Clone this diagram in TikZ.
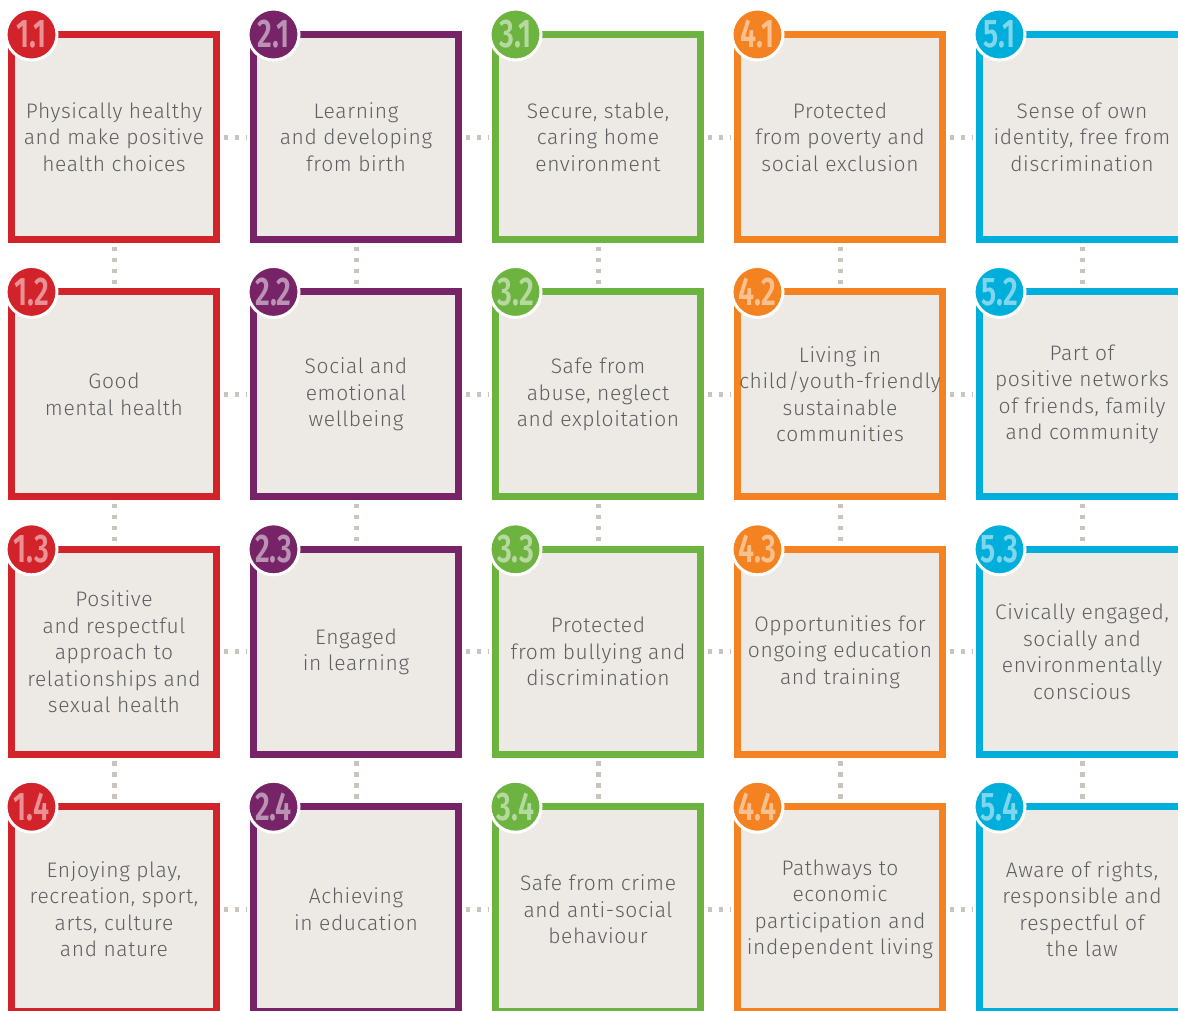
\documentclass[tikz,border=0pt]{standalone}
\usepackage{fontspec}
\setmainfont{Fira Sans}[UprightFont=* Light, BoldFont=* SemiBold]
\newfontfamily\txtfont{Fira Sans}[UprightFont=* Light, LetterSpace=3]
\usepackage{graphicx}
\usetikzlibrary{calc}
\definecolor{cred}{HTML}{D2232A}
\definecolor{cpurple}{HTML}{762467}
\definecolor{cgreen}{HTML}{6DB33F}
\definecolor{corange}{HTML}{F58220}
\definecolor{cblue}{HTML}{00AEDB}
\definecolor{boxfill}{HTML}{EDEAE6}
\definecolor{txtgrey}{HTML}{5E5F61}
\definecolor{dotgrey}{HTML}{C9C5BC}
\tikzset{
  cbox/.style={draw=#1, fill=boxfill, line width=7pt, minimum width=205pt, minimum height=205pt,
    inner sep=0pt, align=center, text=txtgrey, font=\txtfont\fontsize{21}{26.5}\selectfont},
  cnum/.style={circle, fill=#1, draw=white, line width=3pt, minimum size=51pt, inner sep=0pt,
    text=#1!50!white, font=\fontsize{40}{40}\selectfont\bfseries},
  dotline/.style={draw=dotgrey, line width=5pt, dash pattern=on 4.5pt off 6.5pt,
    shorten <=3.5pt, shorten >=3.5pt},
}
\newcommand\mkcell[5]{%
  \node[cbox=#4] (#1) at ({114+242*(#2-1)},{137+257.4*(#3-1)}) {#5};
  \node[cnum=#4] (n#1) at ($(#1.north west)+(23.5,3.5)$) {\scalebox{0.72}[1]{#2.#3}};
}
\begin{document}
\begin{tikzpicture}[x=1pt,y=-1pt]
\useasboundingbox (0,0) rectangle (1178,1010);
\clip (0,0) rectangle (1178,1010);
\fill[white] (0,0) rectangle (1178,1010);
% column 1
\mkcell{b11}{1}{1}{cred}{Physically healthy\\and make positive\\health choices}
\mkcell{b12}{1}{2}{cred}{Good\\mental health}
\mkcell{b13}{1}{3}{cred}{Positive\\and respectful\\approach to\\relationships and\\sexual health}
\mkcell{b14}{1}{4}{cred}{Enjoying play,\\recreation, sport,\\arts, culture\\and nature}
% column 2
\mkcell{b21}{2}{1}{cpurple}{Learning\\and developing\\from birth}
\mkcell{b22}{2}{2}{cpurple}{Social and\\emotional\\wellbeing}
\mkcell{b23}{2}{3}{cpurple}{Engaged\\in learning}
\mkcell{b24}{2}{4}{cpurple}{Achieving\\in education}
% column 3
\mkcell{b31}{3}{1}{cgreen}{Secure, stable,\\caring home\\environment}
\mkcell{b32}{3}{2}{cgreen}{Safe from\\abuse, neglect\\and exploitation}
\mkcell{b33}{3}{3}{cgreen}{Protected\\from bullying and\\discrimination}
\mkcell{b34}{3}{4}{cgreen}{Safe from crime\\and anti-social\\behaviour}
% column 4
\mkcell{b41}{4}{1}{corange}{Protected\\from poverty and\\social exclusion}
\mkcell{b42}{4}{2}{corange}{Living in\\child/youth-friendly\\sustainable\\communities}
\mkcell{b43}{4}{3}{corange}{Opportunities for\\ongoing education\\and training}
\mkcell{b44}{4}{4}{corange}{Pathways to\\economic\\participation and\\independent living}
% column 5
\mkcell{b51}{5}{1}{cblue}{Sense of own\\identity, free from\\discrimination}
\mkcell{b52}{5}{2}{cblue}{Part of\\positive networks\\of friends, family\\and community}
\mkcell{b53}{5}{3}{cblue}{Civically engaged,\\socially and\\environmentally\\conscious}
\mkcell{b54}{5}{4}{cblue}{Aware of rights,\\responsible and\\respectful of\\the law}
% connectors
\foreach \r in {1,2,3,4}{
  \foreach \c/\d in {1/2,2/3,3/4,4/5}{
    \draw[dotline] (b\c\r.east) -- (b\d\r.west);
  }
}
\foreach \c in {1,2,3,4,5}{
  \foreach \r/\s in {1/2,2/3,3/4}{
    \draw[dotline] (b\c\r.south) -- (b\c\s.north);
  }
}
\end{tikzpicture}
\end{document}
